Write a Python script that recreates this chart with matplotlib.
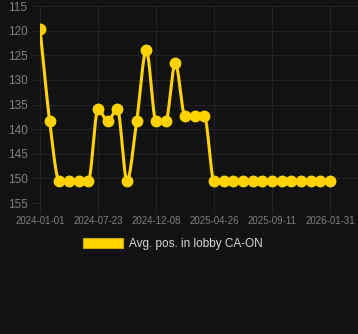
import numpy as np
import matplotlib
matplotlib.use("Agg")
import matplotlib.pyplot as plt
from matplotlib.patches import Patch

# Avg. position in lobby, one value per sample
positions = [119.6, 138.4, 150.5, 150.5, 150.5, 150.5, 135.9, 138.4, 135.9, 150.5,
             138.4, 124.0, 138.4, 138.4, 126.6, 137.3, 137.3, 137.3, 150.5, 150.5,
             150.5, 150.5, 150.5, 150.5, 150.5, 150.5, 150.5, 150.5, 150.5, 150.5,
             150.5]
tick_idx = [0, 6, 12, 18, 24, 30]
tick_labels = ["2024-01-01", "2024-07-23", "2024-12-08", "2025-04-26", "2025-09-11", "2026-01-31"]
series_name = "Avg. pos. in lobby CA-ON"

bg = "#121212"
grid_c = "#222222"
text_c = "#808080"
yellow = "#FFD200"


def monotone_curve(x, y, n=20):
    # Fritsch-Carlson monotone cubic, like chart.js "monotone"
    x = np.asarray(x, float)
    y = np.asarray(y, float)
    h = np.diff(x)
    d = np.diff(y) / h
    m = np.zeros_like(y)
    m[0] = d[0]
    m[-1] = d[-1]
    for i in range(1, len(y) - 1):
        if d[i - 1] * d[i] <= 0:
            m[i] = 0
        else:
            m[i] = (d[i - 1] + d[i]) / 2
    for i in range(len(d)):
        if d[i] == 0:
            m[i] = m[i + 1] = 0
            continue
        a = m[i] / d[i]
        b = m[i + 1] / d[i]
        s = a * a + b * b
        if s > 9:
            t = 3 / np.sqrt(s)
            m[i] = t * a * d[i]
            m[i + 1] = t * b * d[i]
    xs, ys = [], []
    for i in range(len(d)):
        t = np.linspace(0, 1, n, endpoint=False)
        h00 = 2 * t**3 - 3 * t**2 + 1
        h10 = t**3 - 2 * t**2 + t
        h01 = -2 * t**3 + 3 * t**2
        h11 = t**3 - t**2
        xs.append(x[i] + t * h[i])
        ys.append(h00 * y[i] + h10 * h[i] * m[i] + h01 * y[i + 1] + h11 * h[i] * m[i + 1])
    xs.append([x[-1]])
    ys.append([y[-1]])
    return np.concatenate(xs), np.concatenate(ys)


plt.rcParams["font.family"] = ["Liberation Sans", "DejaVu Sans"]

fig = plt.figure(figsize=(3.58, 3.34), dpi=100, facecolor=bg)
ax = fig.add_axes([40 / 358, 131 / 334, 318 / 358, 197 / 334], facecolor=bg)

idx = np.arange(len(positions))
sx, sy = monotone_curve(idx, positions)
ax.plot(sx, sy, color=yellow, lw=2.2, solid_capstyle="round", zorder=3)
ax.plot(idx, positions, "o", color=yellow, ms=7.5, zorder=4)

ax.set_ylim(155, 115)
ax.set_yticks(range(115, 160, 5))
ax.set_xlim(0, 30 + 28 / 9.67)
ax.set_xticks(tick_idx)
ax.set_xticklabels(tick_labels)

ax.grid(True, color=grid_c, lw=0.8)
ax.set_axisbelow(True)
for s in ax.spines.values():
    s.set_visible(False)
ax.tick_params(axis="y", colors=grid_c, labelcolor=text_c, labelsize=8.5, length=6, pad=3)
ax.tick_params(axis="x", colors=grid_c, labelcolor=text_c, labelsize=7, length=7, pad=2)

fig.legend(handles=[Patch(facecolor=yellow, edgecolor="#c9a600", lw=0.8)], labels=[series_name],
           loc="center", bbox_to_anchor=(173 / 358, 1 - 244 / 334), frameon=False,
           handlelength=3.4, handleheight=1.0, handletextpad=0.5,
           prop={"size": 8.5}, labelcolor="#d8d8d8")

fig.savefig("out.png", dpi=100, facecolor=bg)
